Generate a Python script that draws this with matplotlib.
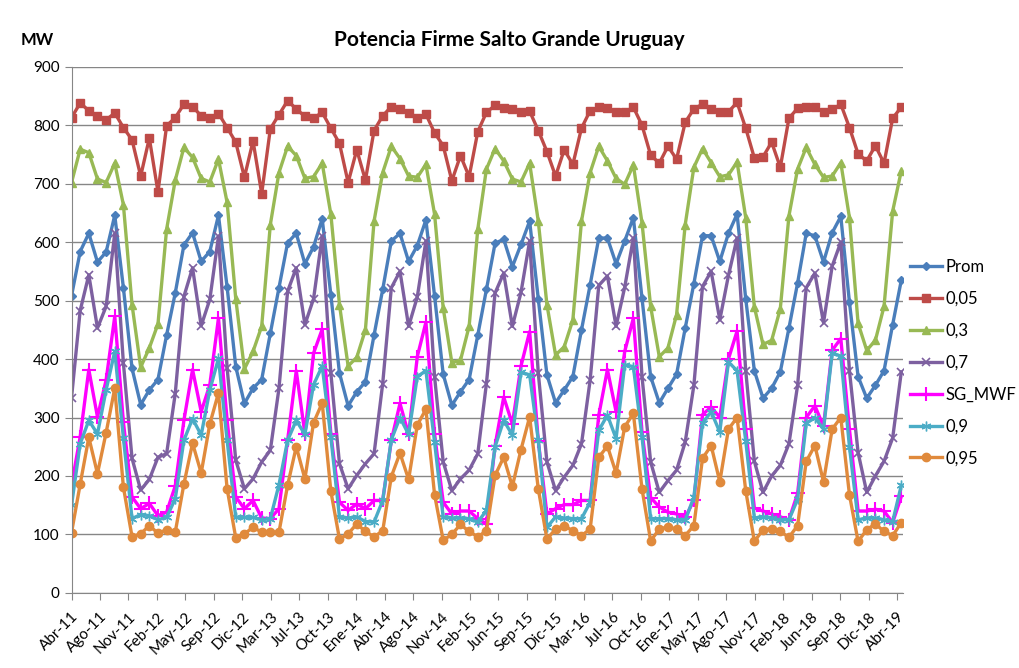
import numpy as np
import matplotlib.pyplot as plt

plt.rcParams['font.family'] = ['Lato', 'DejaVu Sans']

# meses Abr-11 .. Abr-19 (97 valores mensuales)
tick_labels = ['Abr-11', 'Ago-11', 'Nov-11', 'Feb-12', 'May-12', 'Sep-12', 'Dic-12', 'Mar-13',
               'Jul-13', 'Oct-13', 'Ene-14', 'Abr-14', 'Ago-14', 'Nov-14', 'Feb-15', 'Jun-15',
               'Sep-15', 'Dic-15', 'Mar-16', 'Jul-16', 'Oct-16', 'Ene-17', 'May-17', 'Ago-17',
               'Nov-17', 'Feb-18', 'Jun-18', 'Sep-18', 'Dic-18', 'Abr-19']

prom = [508, 584, 615, 566, 583, 646, 522, 384, 322, 347, 365, 441,
        513, 595, 616, 567, 584, 646, 523, 387, 324, 350, 365, 444,
        522, 599, 615, 563, 592, 640, 510, 376, 320, 344, 361, 441,
        519, 602, 615, 567, 594, 638, 508, 374, 321, 344, 365, 441,
        519, 598, 605, 558, 596, 636, 503, 373, 325, 347, 370, 450,
        527, 607, 607, 563, 602, 642, 504, 370, 325, 350, 374, 453,
        529, 611, 611, 567, 615, 648, 503, 380, 333, 350, 378, 453,
        530, 615, 611, 566, 616, 644, 497, 370, 333, 355, 380, 459, 535]

p005 = [813, 838, 825, 815, 809, 821, 796, 775, 713, 778, 686, 799,
        813, 836, 832, 816, 812, 820, 796, 771, 711, 773, 683, 794,
        818, 842, 828, 815, 812, 822, 795, 769, 702, 758, 706, 791,
        816, 832, 828, 821, 813, 819, 787, 765, 705, 748, 712, 789,
        822, 834, 830, 828, 822, 824, 791, 755, 713, 758, 733, 795,
        825, 831, 829, 823, 822, 831, 800, 749, 735, 764, 742, 805,
        828, 836, 828, 822, 823, 839, 795, 744, 746, 771, 728, 812,
        829, 831, 832, 822, 827, 836, 796, 751, 739, 765, 735, 812, 831]

p03 = [702, 759, 753, 708, 702, 735, 664, 493, 386, 419, 460, 622,
       706, 762, 745, 709, 703, 742, 668, 503, 383, 413, 456, 630,
       719, 764, 748, 709, 712, 735, 648, 493, 388, 403, 450, 636,
       719, 764, 743, 713, 711, 733, 648, 487, 394, 398, 456, 622,
       725, 760, 739, 708, 703, 735, 636, 493, 407, 421, 467, 636,
       719, 764, 739, 709, 699, 732, 633, 490, 404, 419, 476, 630,
       728, 760, 736, 712, 715, 737, 642, 489, 425, 432, 486, 645,
       725, 762, 733, 711, 713, 736, 642, 461, 415, 432, 490, 653, 722]

p07 = [334, 483, 544, 453, 490, 615, 393, 230, 176, 194, 232, 238,
       341, 507, 556, 457, 502, 610, 385, 227, 178, 195, 224, 244,
       350, 516, 556, 459, 503, 610, 376, 221, 178, 201, 221, 238,
       358, 522, 550, 456, 506, 602, 370, 224, 175, 195, 210, 238,
       358, 513, 547, 456, 514, 602, 376, 224, 175, 198, 218, 255,
       364, 526, 542, 456, 523, 607, 370, 224, 172, 192, 210, 258,
       355, 524, 550, 467, 543, 607, 380, 225, 172, 200, 218, 255,
       355, 522, 547, 462, 559, 600, 380, 240, 172, 200, 225, 265, 378]

sg_mwf = [184, 267, 382, 301, 364, 473, 292, 164, 144, 153, 132, 138,
          183, 295, 382, 310, 356, 470, 295, 164, 144, 158, 128, 127,
          144, 261, 380, 272, 410, 451, 272, 155, 141, 152, 144, 158,
          158, 261, 324, 271, 404, 463, 272, 155, 135, 140, 140, 127,
          118, 252, 335, 289, 388, 447, 260, 135, 144, 151, 151, 158,
          158, 304, 382, 310, 413, 470, 275, 163, 147, 138, 135, 129,
          158, 305, 318, 300, 400, 448, 280, 145, 140, 135, 130, 125,
          170, 300, 320, 285, 415, 435, 280, 140, 140, 143, 140, 120, 165]

p09 = [150, 255, 295, 272, 347, 413, 265, 127, 134, 132, 125, 129,
       161, 261, 298, 270, 347, 401, 261, 129, 129, 129, 125, 127,
       185, 261, 295, 271, 356, 388, 267, 129, 128, 130, 122, 121,
       158, 262, 300, 271, 370, 380, 258, 129, 128, 128, 127, 121,
       141, 250, 295, 270, 377, 373, 261, 112, 130, 128, 127, 127,
       155, 278, 304, 264, 390, 387, 267, 127, 127, 127, 125, 124,
       164, 290, 310, 275, 395, 380, 260, 128, 130, 128, 125, 125,
       160, 290, 300, 280, 410, 405, 250, 125, 128, 128, 125, 122, 184]

p095 = [103, 186, 266, 204, 274, 350, 181, 96, 101, 115, 102, 108,
        104, 186, 256, 205, 289, 342, 178, 94, 101, 112, 104, 104,
        104, 184, 250, 195, 291, 325, 174, 92, 101, 118, 105, 96,
        106, 199, 239, 194, 287, 314, 168, 90, 100, 117, 105, 96,
        106, 201, 232, 182, 245, 301, 178, 92, 109, 115, 106, 98,
        109, 232, 251, 205, 284, 307, 178, 89, 109, 113, 109, 98,
        115, 230, 252, 190, 280, 300, 175, 88, 108, 110, 105, 95,
        115, 225, 252, 190, 280, 300, 168, 88, 108, 118, 105, 98, 120]

x = np.arange(len(prom))

fig = plt.figure(figsize=(10.19, 6.68), dpi=100)
ax = fig.add_axes([0.0702, 0.1125, 0.816, 0.7875])

lw = 2.4
ax.plot(x, prom, color='#4A7EBB', lw=lw, marker='D', ms=4, label='Prom')
ax.plot(x, p005, color='#BE4B48', lw=lw, marker='s', ms=6, label='0,05')
ax.plot(x, p03, color='#98B954', lw=lw, marker='^', ms=5.5, label='0,3')
ax.plot(x, p07, color='#7D60A0', lw=lw, marker='x', ms=6, mew=1.2, label='0,7')
ax.plot(x, sg_mwf, color='#FF00FF', lw=lw, marker='+', ms=10, mew=1.5, label='SG_MWF')
ax.plot(x, p09, color='#4BACC6', lw=lw, marker=(6, 2, 0), ms=7, mew=1.0, label='0,9')
ax.plot(x, p095, color='#E08A3C', lw=lw, marker='o', ms=6, label='0,95')

ax.set_xlim(0, 96.2)
ax.set_ylim(0, 900)
ax.set_yticks(range(0, 901, 100))
ax.set_xticks(np.linspace(0, 95.5, len(tick_labels)))
ax.set_xticklabels(tick_labels, rotation=45, ha='right', rotation_mode='anchor', fontsize=11)
ax.tick_params(axis='y', labelsize=11, length=5, color='#868686')
ax.tick_params(axis='x', length=5, color='#868686', pad=7)
ax.grid(axis='y', color='#868686', lw=1)
ax.set_axisbelow(True)
for s in ['top', 'right']:
    ax.spines[s].set_visible(False)
for s in ['left', 'bottom']:
    ax.spines[s].set_color('#868686')

fig.text(0.5, 0.94, 'Potencia Firme Salto Grande Uruguay', ha='center', va='center',
         fontsize=15, fontweight='bold')
fig.text(0.02, 0.94, 'MW', ha='left', va='center', fontsize=12, fontweight='bold')

fig.legend(loc='upper left', bbox_to_anchor=(0.893, 0.612), frameon=False, fontsize=12,
           borderpad=0, borderaxespad=0, handlelength=1.9, handletextpad=0.25,
           labelspacing=0.95)

fig.savefig('out.png', dpi=100)
